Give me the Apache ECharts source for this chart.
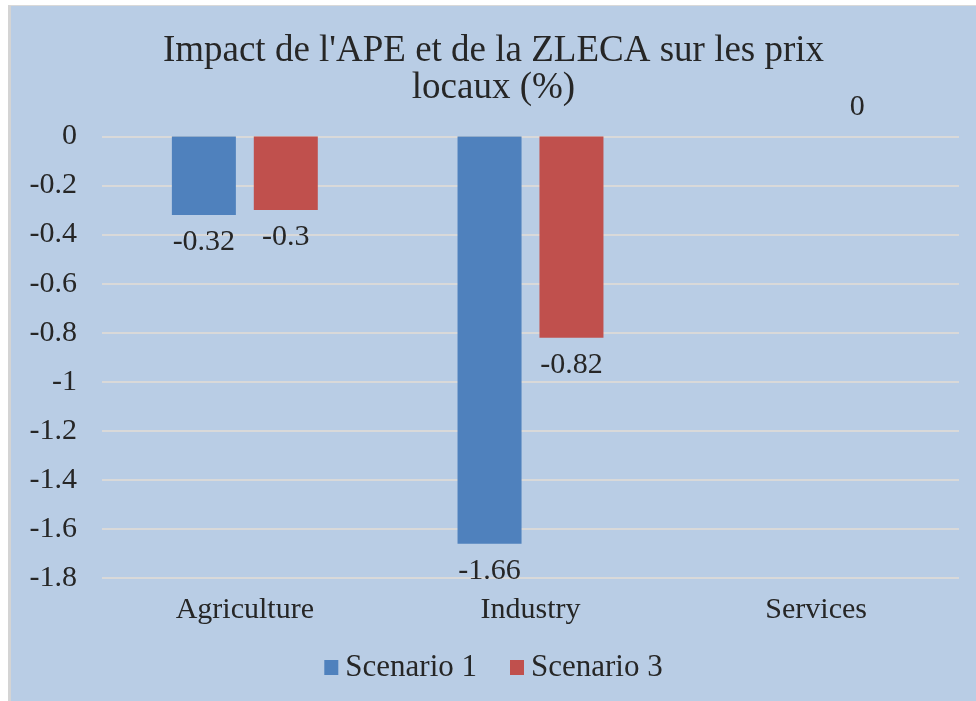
<!DOCTYPE html>
<html>
<head>
<meta charset="utf-8">
<script src="https://cdn.jsdelivr.net/npm/echarts@6/dist/echarts.min.js"></script>
<style>
html,body{margin:0;padding:0;background:#fff;width:976px;height:701px;overflow:hidden;}
#frame{position:absolute;left:8px;top:5px;width:968px;height:696px;border-left:3px solid #d4d4d4;border-top:1px solid #d9d9d9;background:#b9cde5;box-sizing:border-box;}
#chart{position:absolute;left:11px;top:6px;width:965px;height:695px;}
</style>
</head>
<body>
<div id="frame"></div>
<div id="chart"></div>
<script>
const categories = ['Agriculture', 'Industry', 'Services'];
const seriesNames = ['Scenario 1', 'Scenario 3'];
const scenario1 = [-0.32, -1.66, null];
const scenario3 = [-0.3, -0.82, 0];
const titleText = "Impact de l'APE et de la ZLECA sur les prix\nlocaux (%)";

const FONT = 'Liberation Serif';
const TXT = '#262626';

function mkData(arr) {
  return arr.map(v => {
    if (v === null) return '-';
    if (v >= 0) return { value: v, label: { position: 'top', distance: 14 } };
    return v;
  });
}

const chart = echarts.init(document.getElementById('chart'), null, { renderer: 'canvas' });
chart.setOption({
  backgroundColor: 'transparent',
  animation: false,
  color: ['#4f81bd', '#c0504d'],
  title: {
    text: titleText,
    left: 'center',
    top: 22,
    textStyle: { fontFamily: FONT, fontSize: 37, fontWeight: 'normal', color: TXT, lineHeight: 37 }
  },
  legend: {
    data: seriesNames,
    bottom: 13,
    left: 'center',
    icon: 'rect',
    itemWidth: 14,
    itemHeight: 15,
    itemGap: 33,
    textStyle: { fontFamily: FONT, fontSize: 31, color: TXT, padding: [0, 0, 0, 2] }
  },
  grid: { left: 91, right: 17, top: 130.5, bottom: 123, containLabel: false },
  xAxis: {
    type: 'category',
    data: categories,
    position: 'bottom',
    axisLine: { show: false },
    axisTick: { show: false },
    axisLabel: { fontFamily: FONT, fontSize: 30, color: TXT, margin: 17 }
  },
  yAxis: {
    type: 'value',
    min: -1.8,
    max: 0,
    interval: 0.2,
    axisLine: { show: false },
    axisTick: { show: false },
    splitLine: { lineStyle: { color: '#d9d9d9', width: 2 } },
    axisLabel: {
      fontFamily: FONT, fontSize: 30, color: TXT, margin: 25,
      formatter: v => String(Math.round(v * 10) / 10)
    }
  },
  series: [
    {
      name: seriesNames[0],
      type: 'bar',
      data: mkData(scenario1),
      barWidth: 64,
      barGap: '28%',
      label: { show: true, position: 'bottom', distance: 12, fontFamily: FONT, fontSize: 30, color: TXT }
    },
    {
      name: seriesNames[1],
      type: 'bar',
      data: mkData(scenario3),
      barWidth: 64,
      label: { show: true, position: 'bottom', distance: 12, fontFamily: FONT, fontSize: 30, color: TXT }
    }
  ]
});
</script>
</body>
</html>
